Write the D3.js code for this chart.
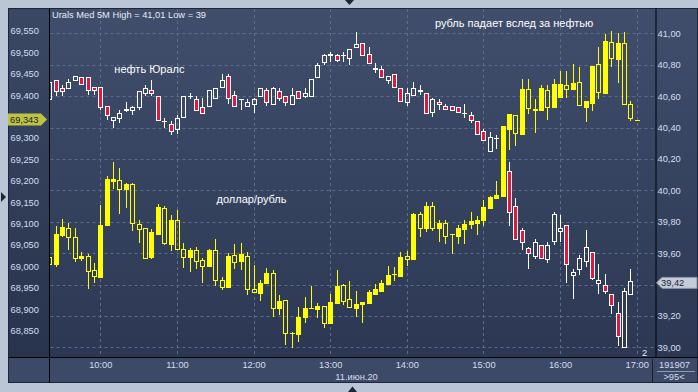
<!DOCTYPE html>
<html><head><meta charset="utf-8">
<script src="https://cdnjs.cloudflare.com/ajax/libs/d3/7.8.5/d3.min.js"></script>
<style>
body{margin:0;background:#bac6d6;}
svg{display:block;}
text{font-family:"Liberation Sans",Arial,sans-serif;}
</style></head>
<body><svg id="c" width="698" height="392"></svg>
<script>
// ---------- DATA ----------
const titleText = "Urals Med 5M High = 41,01 Low = 39";
const dateLabel = "11.июн.20";
const startTime = "09:20";
const hourTicks = ["10:00","11:00","12:00","13:00","14:00","15:00","16:00","17:00"];
const leftTicks = [68.85,68.90,68.95,69.00,69.05,69.10,69.15,69.20,69.25,69.30,69.35,69.40,69.45,69.50,69.55];
const rightTicks = [39.0,39.2,39.4,39.6,39.8,40.0,40.2,40.4,40.6,40.8,41.0];
const annotations = [
  {text:"нефть Юралс", t:"10:11", v:40.747, axis:"R"},
  {text:"доллар/рубль", t:"11:31", v:69.148, axis:"L"},
  {text:"рубль падает вслед за нефтью", t:"14:22", v:41.043, axis:"R"}
];

// Urals (right axis), 5-minute candles from 09:20
const oilOpen  = [40.58,40.70,40.65,40.65,40.70,40.72,40.72,40.66,40.66,40.54,40.45,40.46,40.52,40.51,40.53,40.62,40.64,40.60,40.44,40.42,40.39,40.47,40.60,40.58,40.53,40.54,40.59,40.66,40.73,40.61,40.58,40.54,40.55,40.60,40.64,40.55,40.63,40.60,40.55,40.63,40.60,40.60,40.72,40.82,40.86,40.86,40.86,40.84,40.91,40.94,40.87,40.77,40.77,40.70,40.74,40.65,40.56,40.61,40.63,40.62,40.50,40.56,40.54,40.54,40.53,40.49,40.48,40.44,40.38,40.25,40.33,40.33,40.12,39.90,39.75,39.63,39.58,39.65,39.56,39.68,39.74,39.78,39.46,39.50,39.55,39.61,39.41,39.40,39.34,39.22,39.00,39.34];
const oilHigh  = [40.70,40.70,40.67,40.71,40.73,40.72,40.72,40.66,40.66,40.54,40.47,40.51,40.56,40.54,40.63,40.67,40.70,40.60,40.46,40.44,40.48,40.60,40.62,40.60,40.59,40.64,40.65,40.74,40.74,40.63,40.58,40.58,40.59,40.65,40.65,40.66,40.65,40.60,40.65,40.63,40.65,40.71,40.81,40.87,40.88,40.87,40.88,40.90,41.01,40.94,40.91,40.81,40.79,40.73,40.74,40.65,40.65,40.69,40.67,40.62,40.59,40.58,40.55,40.54,40.53,40.55,40.50,40.44,40.39,40.37,40.35,40.33,40.18,39.95,39.76,39.64,39.69,39.65,39.67,39.86,39.84,39.78,39.50,39.59,39.75,39.61,39.53,39.47,39.34,39.29,39.38,39.50];
const oilLow   = [40.57,40.60,40.60,40.65,40.70,40.68,40.61,40.61,40.51,40.45,40.40,40.43,40.50,40.48,40.51,40.60,40.60,40.44,40.40,40.35,40.36,40.47,40.58,40.51,40.49,40.54,40.59,40.66,40.55,40.53,40.51,40.54,40.49,40.60,40.54,40.55,40.57,40.54,40.55,40.59,40.59,40.60,40.72,40.80,40.82,40.82,40.82,40.80,40.91,40.86,40.81,40.75,40.72,40.68,40.65,40.57,40.54,40.60,40.61,40.49,40.47,40.51,40.51,40.51,40.50,40.46,40.43,40.36,40.32,40.25,40.26,40.12,39.77,39.69,39.62,39.50,39.56,39.57,39.54,39.65,39.67,39.41,39.31,39.46,39.51,39.43,39.34,39.34,39.21,39.01,39.00,39.34];
const oilClose = [40.69,40.63,40.63,40.69,40.73,40.68,40.64,40.64,40.53,40.48,40.47,40.49,40.51,40.53,40.63,40.65,40.62,40.45,40.44,40.38,40.46,40.60,40.60,40.51,40.49,40.64,40.65,40.70,40.59,40.54,40.58,40.56,40.58,40.65,40.56,40.65,40.59,40.56,40.61,40.59,40.62,40.71,40.80,40.86,40.87,40.83,40.86,40.90,40.93,40.86,40.81,40.78,40.72,40.73,40.66,40.57,40.62,40.65,40.64,40.49,40.58,40.55,40.52,40.51,40.50,40.49,40.45,40.36,40.32,40.34,40.33,40.13,39.86,39.69,39.67,39.60,39.67,39.57,39.65,39.85,39.76,39.53,39.48,39.57,39.64,39.44,39.43,39.36,39.27,39.07,39.36,39.42];

// USD/RUB (left axis), 5-minute candles from 09:20
const usdOpen  = [69.023,69.006,69.073,69.089,69.068,69.019,69.024,68.992,68.976,69.097,69.200,69.202,69.181,69.193,69.098,69.089,69.023,69.076,69.136,69.052,69.108,69.041,69.023,69.038,69.015,69.002,69.038,68.968,68.953,69.027,69.013,69.024,68.947,68.937,68.962,68.984,68.902,68.921,68.845,68.843,68.881,68.902,68.901,68.907,68.868,68.915,68.956,68.923,68.903,68.911,68.915,68.935,68.943,68.959,68.982,68.978,69.024,69.017,69.122,69.090,69.141,69.090,69.101,69.075,69.072,69.087,69.099,69.102,69.108,69.137,69.160,69.165,69.322,69.353,69.309,69.414,69.365,69.365,69.412,69.373,69.396,69.424,69.414,69.431,69.373,69.382,69.472,69.406,69.525,69.485,69.521,69.379,69.343];
const usdHigh  = [69.027,69.094,69.111,69.101,69.089,69.033,69.029,69.008,69.143,69.211,69.243,69.231,69.194,69.196,69.108,69.089,69.087,69.146,69.141,69.120,69.132,69.054,69.044,69.045,69.020,69.041,69.064,68.976,69.031,69.052,69.055,69.034,69.003,68.968,68.996,68.992,68.933,68.921,68.847,68.904,68.929,68.954,68.914,68.907,68.935,68.992,68.959,68.967,68.943,68.917,68.945,68.959,68.968,69.001,68.998,69.034,69.037,69.125,69.128,69.151,69.151,69.108,69.108,69.075,69.097,69.108,69.128,69.118,69.155,69.164,69.200,69.328,69.356,69.354,69.438,69.438,69.390,69.424,69.424,69.437,69.457,69.457,69.473,69.465,69.386,69.468,69.513,69.542,69.550,69.546,69.548,69.386,69.343];
const usdLow   = [69.003,68.998,69.069,69.039,69.011,69.013,68.948,68.961,68.972,69.094,69.181,69.123,69.136,69.083,69.055,69.017,69.017,69.076,69.050,69.037,69.041,68.997,68.988,68.994,68.962,69.002,68.954,68.945,68.950,68.993,68.992,68.933,68.940,68.920,68.961,68.881,68.886,68.816,68.809,68.824,68.868,68.902,68.879,68.855,68.868,68.915,68.910,68.904,68.882,68.868,68.915,68.935,68.943,68.959,68.967,68.978,69.001,69.017,69.069,69.081,69.083,69.058,69.052,69.029,69.052,69.052,69.087,69.073,69.094,69.137,69.157,69.161,69.272,69.281,69.309,69.356,69.311,69.365,69.342,69.373,69.396,69.393,69.414,69.376,69.338,69.364,69.390,69.406,69.467,69.428,69.379,69.340,69.343];
const usdClose = [69.006,69.075,69.091,69.068,69.019,69.024,68.990,68.977,69.097,69.204,69.204,69.181,69.193,69.101,69.087,69.020,69.080,69.138,69.054,69.108,69.041,69.023,69.038,69.013,69.002,69.038,68.968,68.953,69.024,69.011,69.029,68.947,68.940,68.961,68.984,68.902,68.919,68.844,68.845,68.882,68.903,68.902,68.907,68.867,68.916,68.954,68.920,68.904,68.912,68.917,68.940,68.947,68.961,68.979,68.982,69.021,69.017,69.122,69.089,69.141,69.090,69.102,69.072,69.075,69.090,69.099,69.107,69.108,69.139,69.163,69.167,69.328,69.356,69.311,69.414,69.369,69.368,69.416,69.373,69.425,69.426,69.414,69.429,69.376,69.386,69.468,69.408,69.527,69.486,69.523,69.379,69.346,69.343];

const footerTop = "191907";
const footerBottom = ">95<";
const cornerLabel = "2";

// ---------- LAYOUT ----------
const L = 49.5, R = 656, T = 8, B = 357;
const svg = d3.select("#c");
const parseT = d3.timeParse("%H:%M");
const x = d3.scaleTime().domain([parseT("10:00"), parseT("17:00")]).range([100.3, 636.7]);
const yL = d3.scaleLinear().domain([68.85, 69.55]).range([330.6, 31]);
const yR = d3.scaleLinear().domain([39, 41]).range([347.3, 33.3]);
const loc = d3.formatLocale({decimal:",", thousands:" ", grouping:[3], currency:["",""]});
const fmtL = loc.format(".3f"), fmtR = loc.format(".2f");
const labelColor = "#d3ddef";

const lastUsd = usdClose[usdClose.length-1];
const lastOil = oilClose[oilClose.length-1];
const yu = yL(lastUsd);
const yo = yR(lastOil)+1.5;

const defs = svg.append("defs");
const grad = defs.append("linearGradient").attr("id","pg").attr("x1",0).attr("y1",0).attr("x2",0).attr("y2",1);
grad.append("stop").attr("offset","0%").attr("stop-color","#404e6c");
grad.append("stop").attr("offset","100%").attr("stop-color","#2c3853");
defs.append("clipPath").attr("id","plotclip").append("rect")
  .attr("x",L+0.5).attr("y",T).attr("width",R-L-1).attr("height",B-T);

// backgrounds
svg.append("rect").attr("x",8).attr("y",8).attr("width",690).attr("height",349).attr("fill","url(#pg)");
svg.append("rect").attr("x",8).attr("y",8).attr("width",L-8).attr("height",349).attr("fill","#000").attr("opacity",0.07);
svg.append("rect").attr("x",8).attr("y",357).attr("width",690).attr("height",26).attr("fill","#3d4a67");

// grid
const grid = svg.append("g").attr("stroke","#5c6d8e").attr("stroke-dasharray","3,3").attr("stroke-width",1);
grid.selectAll("line.h").data(rightTicks).join("line").attr("class","h")
  .attr("x1",L+1).attr("x2",R).attr("y1",d=>Math.round(yR(d))+0.5).attr("y2",d=>Math.round(yR(d))+0.5);
grid.selectAll("line.v").data(hourTicks).join("line").attr("class","v")
  .attr("y1",T+1).attr("y2",B).attr("x1",d=>Math.round(x(parseT(d)))+0.5).attr("x2",d=>Math.round(x(parseT(d)))+0.5);

// ---------- CANDLES ----------
function buildCandles(O,H,Lo,C,y){
  const t0 = parseT(startTime);
  return O.map((o,i)=>{
    const t = d3.timeMinute.offset(t0, 5*i);
    const cx = Math.round(x(t));
    const yo=y(o), yc=y(C[i]);
    const top=Math.round(Math.min(yo,yc)), bot=Math.round(Math.max(yo,yc));
    return {cx, top, bot, yh:Math.round(y(H[i])), yl:Math.round(y(Lo[i])),
            up:C[i]>o, flat:C[i]===o || bot-top<1};
  });
}
function drawCandles(g, data, wickColor, upFill, upStroke, downFill, downStroke){
  g.selectAll("line.wt").data(data.filter(d=>d.yh<d.top)).join("line").attr("class","wt")
    .attr("x1",d=>d.cx+0.5).attr("x2",d=>d.cx+0.5).attr("y1",d=>d.yh).attr("y2",d=>d.top)
    .attr("stroke",wickColor);
  g.selectAll("line.wb").data(data.filter(d=>d.yl>d.bot+1)).join("line").attr("class","wb")
    .attr("x1",d=>d.cx+0.5).attr("x2",d=>d.cx+0.5).attr("y1",d=>d.bot+1).attr("y2",d=>d.yl)
    .attr("stroke",wickColor);
  g.selectAll("rect.body").data(data.filter(d=>!d.flat)).join("rect").attr("class","body")
    .attr("x",d=>d.cx-1.5).attr("width",4)
    .attr("y",d=>d.top+0.5).attr("height",d=>Math.max(1,d.bot-d.top))
    .attr("fill",d=>d.up?upFill:downFill).attr("stroke",d=>d.up?upStroke:downStroke);
  g.selectAll("line.flat").data(data.filter(d=>d.flat)).join("line").attr("class","flat")
    .attr("x1",d=>d.cx-2).attr("x2",d=>d.cx+3).attr("y1",d=>d.top+0.5).attr("y2",d=>d.top+0.5)
    .attr("stroke",wickColor);
}
const plot = svg.append("g").attr("clip-path","url(#plotclip)");
drawCandles(plot.append("g"), buildCandles(oilOpen,oilHigh,oilLow,oilClose,yR), "#ffffff", "none", "#ffffff", "#e3173e", "#ffffff");
drawCandles(plot.append("g"), buildCandles(usdOpen,usdHigh,usdLow,usdClose,yL), "#ffff00", "#ffff00", "#ffff00", "none", "#ffff00");

// ---------- FRAME LINES ----------
svg.append("rect").attr("x",8.5).attr("y",8.5).attr("width",689).attr("height",374).attr("fill","none").attr("stroke","#1d2538");
svg.append("line").attr("x1",L).attr("x2",L).attr("y1",8).attr("y2",383).attr("stroke","#000");
svg.append("line").attr("x1",R).attr("x2",R).attr("y1",8).attr("y2",357).attr("stroke","#000");
svg.append("line").attr("x1",8).attr("x2",698).attr("y1",B+0.5).attr("y2",B+0.5).attr("stroke","#000");
svg.append("line").attr("x1",652.5).attr("x2",652.5).attr("y1",359).attr("y2",383).attr("stroke","#1a2030");
svg.append("line").attr("x1",657).attr("x2",695).attr("y1",371.5).attr("y2",371.5).attr("stroke","#8d9bb3");

// ---------- AXES ----------
// tick labels hidden under the last-value markers are left out, as in the terminal
const leftShown = leftTicks.filter(v=>Math.abs(yL(v)-yu)>9);
const rightShown = rightTicks.filter(v=>Math.abs(yR(v)-yo)>9);
const axL = svg.append("g").attr("transform","translate(10.5,0)")
  .call(d3.axisRight(yL).tickValues(leftShown).tickFormat(fmtL).tickSize(0).tickPadding(0));
const axR = svg.append("g").attr("transform","translate(657.5,0)")
  .call(d3.axisRight(yR).tickValues(rightShown).tickFormat(fmtR).tickSize(0).tickPadding(0));
const axB = svg.append("g").attr("transform","translate(0,361)")
  .call(d3.axisBottom(x).tickValues(hourTicks.map(parseT)).tickFormat(d3.timeFormat("%H:%M")).tickSize(0).tickPadding(0));
[axL,axR,axB].forEach(a=>{
  a.select(".domain").remove();
  a.selectAll("text").attr("fill",labelColor).style("font-size","9.3px").style("font-family","'Liberation Sans',Arial,sans-serif");
});

svg.append("text").attr("x",356.5).attr("y",380).attr("text-anchor","middle")
  .attr("fill",labelColor).style("font-size","9.3px").text(dateLabel);

// title & annotations
svg.append("text").attr("x",52).attr("y",17.5).attr("fill","#e6ecf6").style("font-size","9.3px").text(titleText);
svg.selectAll("text.ann").data(annotations).join("text").attr("class","ann")
  .attr("x",d=>x(parseT(d.t)))
  .attr("y",d=> d.axis==="L" ? yL(d.v) : yR(d.v))
  .attr("fill","#ffffff").style("font-size","11px").text(d=>d.text);

// last value markers
svg.append("path").attr("d",`M8,${yu-6}H41L47,${yu}L41,${yu+6}H8Z`).attr("fill","#bfc33f");
svg.append("text").attr("x",10).attr("y",yu).attr("dy","0.34em").attr("fill","#1b2238")
  .style("font-size","9.3px").text(fmtL(lastUsd));
svg.append("path").attr("d",`M656.5,${yo}L662,${yo-5.5}H697V${yo+5.5}H662Z`).attr("fill","#c5ccd8").attr("stroke","#8a93a6");
svg.append("text").attr("x",661).attr("y",yo).attr("dy","0.34em").attr("fill","#1b2238")
  .style("font-size","9.3px").text(fmtR(lastOil));

// footer texts
svg.append("text").attr("x",674.5).attr("y",365).attr("dy","0.34em").attr("text-anchor","middle")
  .attr("fill",labelColor).style("font-size","9.3px").text(footerTop);
svg.append("text").attr("x",674).attr("y",377).attr("dy","0.34em").attr("text-anchor","middle")
  .attr("fill",labelColor).style("font-size","9.3px").text(footerBottom);
svg.append("text").attr("x",644.5).attr("y",356).attr("text-anchor","middle")
  .attr("fill","#e0e8f4").style("font-size","9.3px").text(cornerLabel);

// small frame triangles
svg.append("path").attr("d","M345,0H354L349.5,5Z").attr("fill","#1d2538");
svg.append("path").attr("d","M348,392H357L352.5,386.5Z").attr("fill","#1d2538");
svg.append("path").attr("d","M1,192V202L6,197Z").attr("fill","#1d2538");
</script></body></html>
